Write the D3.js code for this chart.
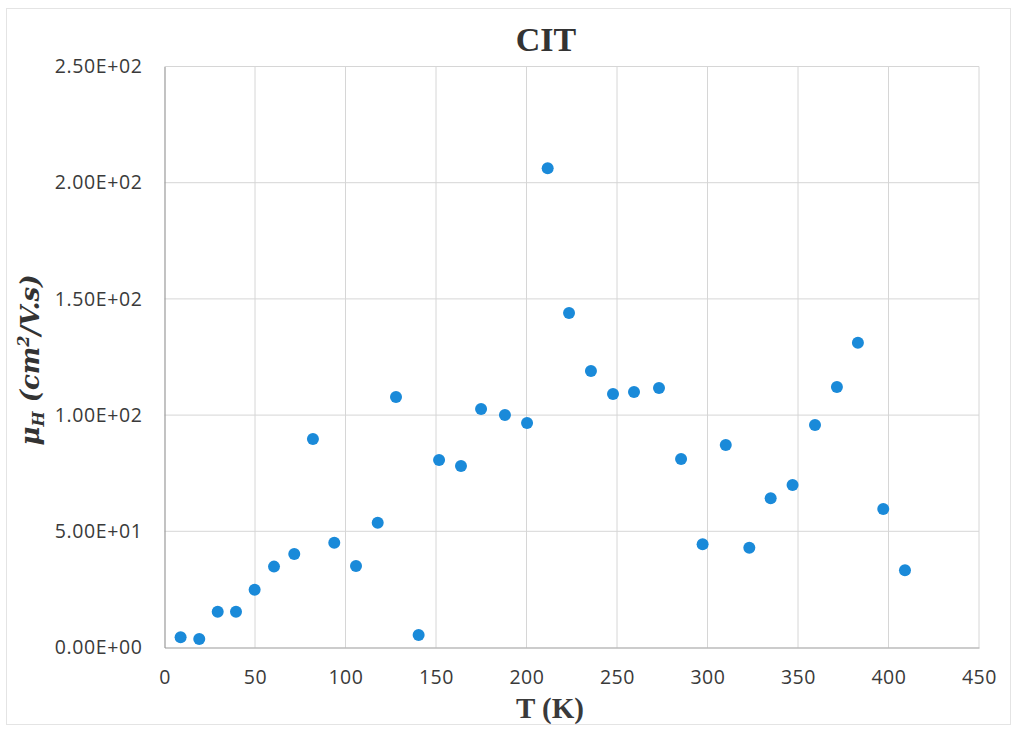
<!DOCTYPE html>
<html>
<head>
<meta charset="utf-8">
<script src="https://cdn.jsdelivr.net/npm/d3@7/dist/d3.min.js"></script>
<style>
  html, body { margin: 0; padding: 0; background: #fff; }
  svg { display: block; }
</style>
</head>
<body>
<svg id="chart" width="1018" height="730"></svg>
<script>
// Hall mobility vs temperature, CIT sample
const temperatureK = [8.9, 19.2, 29.4, 39.5, 49.8, 60.5, 71.7, 82.0, 93.8, 105.8,
  117.8, 127.9, 140.4, 151.7, 163.8, 174.9, 188.1, 200.3, 211.7, 223.5,
  235.6, 247.8, 259.4, 273.2, 285.4, 297.3, 310.1, 323.1, 334.9, 347.0,
  359.4, 371.5, 383.1, 397.1, 409.1];
const mobility = [4.4, 3.7, 15.4, 15.4, 24.9, 34.8, 40.2, 89.7, 45.1, 35.1,
  53.7, 107.8, 5.4, 80.7, 78.1, 102.6, 100.0, 96.6, 206.2, 143.9,
  119.0, 109.1, 109.9, 111.7, 81.1, 44.4, 87.1, 42.9, 64.2, 69.9,
  95.7, 112.1, 131.1, 59.6, 33.2];
const xTicks = [0, 50, 100, 150, 200, 250, 300, 350, 400, 450];
const yTicks = [0, 50, 100, 150, 200, 250];
const chartTitle = "CIT";
const xTitle = "T (K)";

const svg = d3.select("#chart");
const plot = { left: 164.5, right: 979, top: 66.5, bottom: 647.5 };

const x = d3.scaleLinear().domain([0, 450]).range([plot.left, plot.right]);
const y = d3.scaleLinear().domain([0, 250]).range([plot.bottom, plot.top]);

// outer frame
svg.append("rect")
  .attr("x", 6.5).attr("y", 8.5).attr("width", 1004).attr("height", 716)
  .attr("fill", "none").attr("stroke", "#e4e4e4").attr("stroke-width", 1);

// gridlines
svg.append("g")
  .selectAll("line").data(xTicks.slice(1)).join("line")
  .attr("x1", d => x(d)).attr("x2", d => x(d))
  .attr("y1", plot.top).attr("y2", plot.bottom)
  .attr("stroke", "#d6d6d6").attr("stroke-width", 1);
svg.append("g")
  .selectAll("line").data(yTicks.slice(1)).join("line")
  .attr("x1", plot.left).attr("x2", plot.right)
  .attr("y1", d => y(d)).attr("y2", d => y(d))
  .attr("stroke", "#d6d6d6").attr("stroke-width", 1);

// axes
const sci = d => {
  const s = d3.format(".2e")(d);           // e.g. 2.50e+2
  const [m, e] = s.split("e");
  const sign = e[0];
  const digits = e.slice(1).padStart(2, "0");
  return `${m}E${sign}${digits}`;
};
const xAxis = svg.append("g").attr("transform", `translate(0,${plot.bottom})`)
  .call(d3.axisBottom(x).tickValues(xTicks).tickSize(0).tickPadding(23).tickFormat(d3.format("d")));
const yAxis = svg.append("g").attr("transform", `translate(${plot.left},0)`)
  .call(d3.axisLeft(y).tickValues(yTicks).tickSize(0).tickPadding(22).tickFormat(sci));
[xAxis, yAxis].forEach(g => {
  g.select(".domain").attr("stroke", "#9a9a9a").attr("stroke-width", 1.2);
  g.selectAll("text")
    .attr("font-family", "'Open Sans', sans-serif")
    .attr("font-size", 19.5)
    .attr("letter-spacing", "0.6px")
    .attr("fill", "#3a3a3a");
});

// points
svg.append("g")
  .selectAll("circle").data(temperatureK.map((t, i) => [t, mobility[i]])).join("circle")
  .attr("cx", d => x(d[0])).attr("cy", d => y(d[1]))
  .attr("r", 6)
  .attr("fill", "#1a8ad9");

// titles
svg.append("text")
  .attr("x", 546).attr("y", 51)
  .attr("text-anchor", "middle")
  .attr("font-family", "'Liberation Serif', serif")
  .attr("font-weight", "bold")
  .attr("font-size", 34)
  .attr("fill", "#333")
  .text(chartTitle);

svg.append("text")
  .attr("x", 550).attr("y", 718)
  .attr("text-anchor", "middle")
  .attr("font-family", "'Liberation Serif', serif")
  .attr("font-weight", "bold")
  .attr("font-size", 29)
  .attr("fill", "#3a3a3a")
  .text(xTitle);

const yt = svg.append("text")
  .attr("transform", "translate(39,360) rotate(-90)")
  .attr("text-anchor", "middle")
  .attr("font-family", "'DejaVu Serif', serif")
  .attr("font-weight", "bold")
  .attr("font-style", "italic")
  .attr("font-size", 26)
  .attr("fill", "#333");
yt.append("tspan").text("μ");
yt.append("tspan").attr("font-size", 16).attr("dy", 5).text("H");
yt.append("tspan").attr("dy", -5).text(" (cm");
yt.append("tspan").attr("font-size", 16).attr("dy", -10).text("2");
yt.append("tspan").attr("dy", 10).text("/V.s)");
</script>
</body>
</html>
